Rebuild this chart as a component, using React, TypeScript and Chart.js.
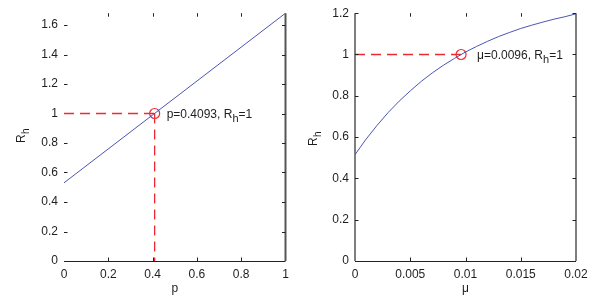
import React, { useEffect, useRef } from "react";
import { Chart, registerables } from "chart.js";
Chart.register(...registerables);

// ---- Data ----
const pValues = [0, 1];
const rhByP = [0.53, 1.68];
const pStar = 0.4093;
const muValues = [0, 0.001, 0.002, 0.003, 0.004, 0.005, 0.006, 0.007, 0.008, 0.009, 0.01,
  0.011, 0.012, 0.013, 0.014, 0.015, 0.016, 0.017, 0.018, 0.019, 0.02];
const rhByMu = [0.515, 0.59, 0.657, 0.719, 0.774, 0.824, 0.87, 0.911, 0.948, 0.981, 1.012,
  1.039, 1.064, 1.087, 1.107, 1.126, 1.142, 1.157, 1.171, 1.183, 1.197];
const muStar = 0.0096;
const rhStar = 1;
const pTicks = [0, 0.2, 0.4, 0.6, 0.8, 1];
const muTicks = [0, 0.005, 0.01, 0.015, 0.02];
const leftYTicks = [0, 0.2, 0.4, 0.6, 0.8, 1, 1.2, 1.4, 1.6];
const rightYTicks = [0, 0.2, 0.4, 0.6, 0.8, 1, 1.2];
const leftYMax = 1.68;
const rightYMax = 1.2;
const leftNote = ["p=0.4093, R", "h", "=1"];
const rightNote = ["\u03bc=0.0096, R", "h", "=1"];

const FONT = "'Liberation Sans', Arial, Helvetica, sans-serif";
const TEXT = "#1e1e1e";
const BLUE = "#4b55b3";
const RED = "#ee2a33";

type Cfg = {
  xs: number[]; ys: number[]; xMax: number; yMax: number;
  xTicks: number[]; yTicks: number[]; star: number;
  vertical: boolean; note: string[]; noteDx: number; xTitle: string;
  yAxisWidth: number; padRight: number; leftLine: boolean; rightLineWidth: number;
  yTitleX: number; yTitleY: number;
};

function framePlugin(cfg: Cfg) {
  return {
    id: "frame",
    afterDraw(chart: any) {
      const { ctx, chartArea } = chart;
      const { left, right, top, bottom } = chartArea;
      const xs = chart.scales.x;
      const ys = chart.scales.y;
      ctx.save();
      ctx.setLineDash([]);
      ctx.strokeStyle = "#222";
      ctx.lineWidth = 1;
      ctx.beginPath();
      ctx.moveTo(left, bottom + 0.5);
      ctx.lineTo(right, bottom + 0.5);
      ctx.stroke();
      if (cfg.leftLine) {
        ctx.strokeStyle = "#555";
        ctx.lineWidth = 1.5;
        ctx.beginPath();
        ctx.moveTo(left, top);
        ctx.lineTo(left, bottom);
        ctx.stroke();
      }
      ctx.strokeStyle = "#555";
      ctx.lineWidth = cfg.rightLineWidth;
      ctx.beginPath();
      ctx.moveTo(right, top);
      ctx.lineTo(right, bottom);
      ctx.stroke();
      ctx.strokeStyle = "#222";
      ctx.lineWidth = 1;
      const tl = 3.5;
      cfg.xTicks.forEach((v) => {
        const px = Math.round(xs.getPixelForValue(v)) + 0.5;
        if (v === 0 || v === cfg.xMax) return;
        ctx.beginPath();
        ctx.moveTo(px, bottom);
        ctx.lineTo(px, bottom - tl);
        ctx.moveTo(px, top);
        ctx.lineTo(px, top + tl);
        ctx.stroke();
      });
      cfg.yTicks.forEach((v) => {
        const py = Math.round(ys.getPixelForValue(v)) + 0.5;
        if (v === 0) return;
        ctx.beginPath();
        if (!(cfg.vertical && v === rhStar)) {
          ctx.moveTo(left, py);
          ctx.lineTo(left + tl, py);
        }
        ctx.moveTo(right, py);
        ctx.lineTo(right - tl, py);
        ctx.stroke();
      });
      ctx.fillStyle = TEXT;
      ctx.font = `12px ${FONT}`;
      ctx.textAlign = "center";
      ctx.textBaseline = "alphabetic";
      ctx.fillText(cfg.xTitle, (left + right) / 2, 292);
      ctx.save();
      ctx.translate(cfg.yTitleX, cfg.yTitleY);
      ctx.rotate(-Math.PI / 2);
      ctx.textAlign = "left";
      ctx.font = `12px ${FONT}`;
      const wR = ctx.measureText("R").width;
      ctx.font = `10px ${FONT}`;
      const wh = ctx.measureText("h").width;
      const total = wR + wh;
      ctx.font = `12px ${FONT}`;
      ctx.fillText("R", -total / 2, 0);
      ctx.font = `10px ${FONT}`;
      ctx.fillText("h", -total / 2 + wR + 0.5, 4);
      ctx.restore();
      const ax = xs.getPixelForValue(cfg.star) + cfg.noteDx;
      const ay = ys.getPixelForValue(rhStar) + 4.5;
      ctx.textAlign = "left";
      ctx.font = `12px ${FONT}`;
      ctx.fillText(cfg.note[0], ax, ay);
      let w = ctx.measureText(cfg.note[0]).width;
      ctx.font = `11px ${FONT}`;
      ctx.fillText(cfg.note[1], ax + w, ay + 4);
      w += ctx.measureText(cfg.note[1]).width;
      ctx.font = `12px ${FONT}`;
      ctx.fillText(cfg.note[2], ax + w, ay);
      ctx.restore();
    },
  };
}

function Panel({ cfg }: { cfg: Cfg }) {
  const ref = useRef<HTMLCanvasElement>(null);
  useEffect(() => {
    if (!ref.current) return;
    const curve = cfg.xs.map((x, i) => ({ x, y: cfg.ys[i] }));
    const hDash = [{ x: 0, y: rhStar }, { x: cfg.star, y: rhStar }];
    const vDash = [{ x: cfg.star, y: rhStar }, { x: cfg.star, y: 0 }];
    const tickFont = { family: FONT, size: 12 };
    const dashStyle = { showLine: true, borderColor: RED, backgroundColor: RED, borderWidth: 1.3,
      borderDash: [10, 6], pointRadius: 0, fill: false };
    const datasets: any[] = [
      { data: curve, showLine: true, borderColor: BLUE, borderWidth: 1, pointRadius: 0, tension: 0 },
      { data: hDash, ...dashStyle },
    ];
    if (cfg.vertical) datasets.push({ data: vDash, ...dashStyle });
    datasets.push({ data: [{ x: cfg.star, y: rhStar }], showLine: false, pointRadius: 5,
      pointBorderColor: RED, pointBackgroundColor: "rgba(0,0,0,0)", pointBorderWidth: 1.2 });
    const chart = new Chart(ref.current, {
      type: "scatter",
      data: { datasets },
      options: {
        animation: false,
        responsive: false,
        events: [],
        layout: { padding: { top: 13, right: cfg.padRight, left: 0, bottom: 0 } },
        plugins: { legend: { display: false }, tooltip: { enabled: false } },
        scales: {
          x: {
            type: "linear", min: 0, max: cfg.xMax,
            grid: { display: false, drawTicks: false }, border: { display: false },
            afterBuildTicks: (s: any) => { s.ticks = cfg.xTicks.map((v) => ({ value: v })); },
            afterFit: (s: any) => { s.height = 39; },
            ticks: { font: tickFont, color: TEXT, padding: 6, maxRotation: 0, autoSkip: false,
              callback: (v: any) => String(v) },
          },
          y: {
            type: "linear", min: 0, max: cfg.yMax,
            grid: { display: false, drawTicks: false }, border: { display: false },
            afterBuildTicks: (s: any) => { s.ticks = cfg.yTicks.map((v) => ({ value: v })); },
            afterFit: (s: any) => { s.width = cfg.yAxisWidth; },
            ticks: { font: tickFont, color: TEXT, padding: 6, autoSkip: false,
              callback: (v: any) => String(v) },
          },
        },
      },
      plugins: [framePlugin(cfg)],
    } as any);
    return () => chart.destroy();
  }, [cfg]);
  return <canvas ref={ref} width={300} height={300} style={{ display: "block", width: 300, height: 300 }} />;
}

const leftCfg: Cfg = {
  xs: pValues, ys: rhByP, xMax: 1, yMax: leftYMax, xTicks: pTicks, yTicks: leftYTicks,
  star: pStar, vertical: true, note: leftNote, noteDx: 12, xTitle: "p",
  yAxisWidth: 64, padRight: 14.5, leftLine: false, rightLineWidth: 2,
  yTitleX: 25, yTitleY: 136,
};
const rightCfg: Cfg = {
  xs: muValues, ys: rhByMu, xMax: 0.02, yMax: rightYMax, xTicks: muTicks, yTicks: rightYTicks,
  star: muStar, vertical: false, note: rightNote, noteDx: 16, xTitle: "\u03bc",
  yAxisWidth: 55, padRight: 24, leftLine: true, rightLineWidth: 1.5,
  yTitleX: 17, yTitleY: 139,
};

export default function App() {
  return (
    <div style={{ position: "fixed", left: 0, top: 0, width: 600, height: 300, background: "#fff", display: "flex" }}>
      <Panel cfg={leftCfg} />
      <Panel cfg={rightCfg} />
    </div>
  );
}
